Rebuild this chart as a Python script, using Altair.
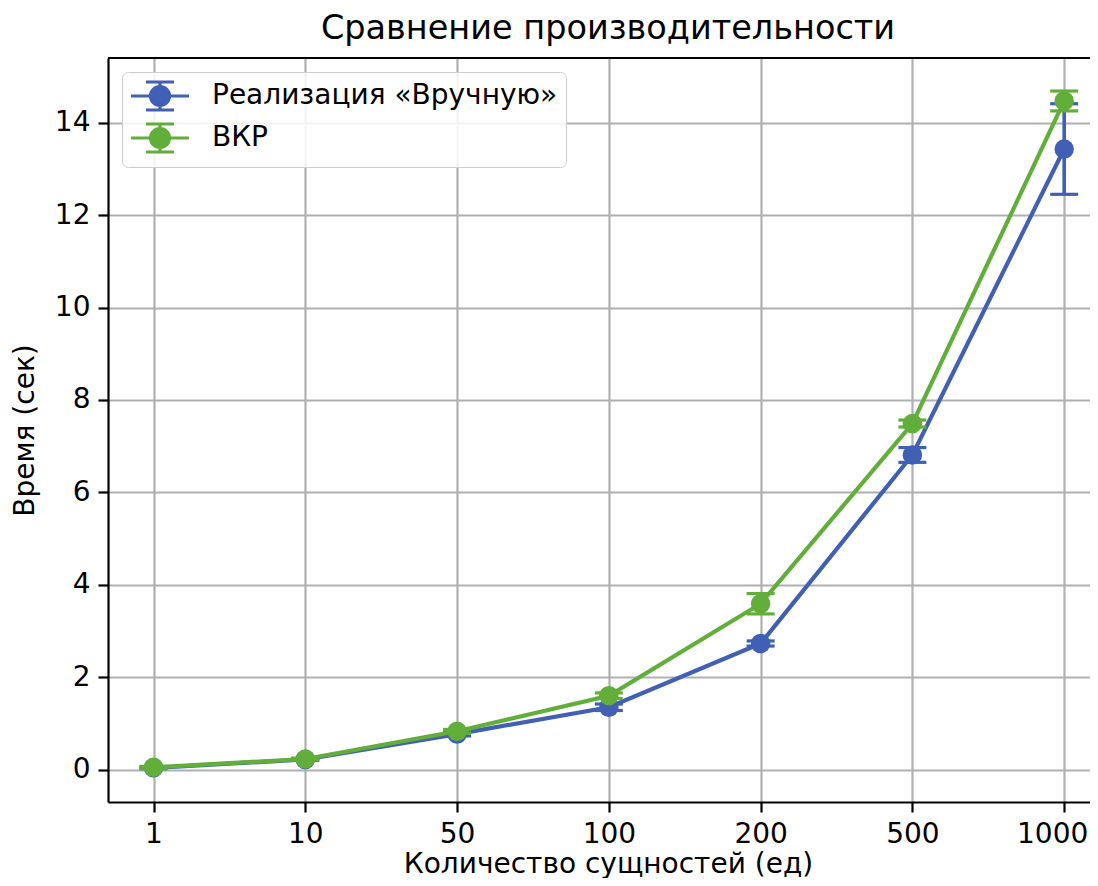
import altair as alt
import pandas as pd

categories = ["1", "10", "50", "100", "200", "500", "1000"]
series_names = ["Реализация «Вручную»", "ВКР"]
manual = [0.04, 0.22, 0.77, 1.35, 2.73, 6.81, 13.43]
manual_err = [0.02, 0.02, 0.04, 0.07, 0.055, 0.16, 0.98]
vkr = [0.05, 0.23, 0.83, 1.60, 3.59, 7.49, 14.47]
vkr_err = [0.02, 0.02, 0.04, 0.06, 0.22, 0.075, 0.215]
colors = ["#4160b5", "#62ae3a"]
y_ticks = [0, 2, 4, 6, 8, 10, 12, 14]

rows = []
for name, vals, errs in [(series_names[0], manual, manual_err), (series_names[1], vkr, vkr_err)]:
    for c, v, e in zip(categories, vals, errs):
        rows.append({"n": c, "series": name, "value": v, "lo": v - e, "hi": v + e})
df = pd.DataFrame(rows)

FONT = "DejaVu Sans"
W, H = 982, 744

xenc = alt.X("n:O", sort=categories,
             scale=alt.Scale(type="point", padding=0.235, align=0.638),
             axis=alt.Axis(title="Количество сущностей (ед)", labelAngle=0, grid=True,
                           labelOffset={"condition": {"test": "datum.label == '1000'", "value": -12}, "value": 0},
                           titleX=500, titleY=70, titleBaseline="alphabetic", titleAnchor="start", titleAlign="center"))
yscale = alt.Scale(domain=[-0.70, 15.40], nice=False, zero=False)
yaxis = alt.Axis(title="Время (сек)", values=y_ticks, grid=True,
                 titleX=-83, titleY=H / 2, titleAngle=-90, titleBaseline="middle", titleAlign="center")

cscale = alt.Scale(domain=series_names, range=colors)

legend_path = ("M-2.07,0L2.07,0M0,-1L0,1M-1,-1L1,-1M-1,1L1,1"
               "M-0.68,0A0.68,0.68 0 1,0 0.68,0A0.68,0.68 0 1,0 -0.68,0Z")
legend = alt.Legend(title=None, orient="none", legendX=14, legendY=14,
                    symbolType=legend_path, symbolSize=784, symbolStrokeWidth=3.2,
                    symbolOffset=14, labelOffset=36, labelFont=FONT, labelFontSize=28,
                    labelColor="#000000", padding=8, rowPadding=0,
                    strokeColor="#cccccc", fillColor="rgba(255,255,255,0.85)",
                    cornerRadius=6, labelLimit=600)

layers = []
for i, name in enumerate(series_names):
    col = colors[i]
    sub = alt.Chart(df).transform_filter(alt.datum.series == name)
    line = sub.mark_line(strokeWidth=4.2, color=col).encode(
        x=xenc, y=alt.Y("value:Q", scale=yscale, axis=yaxis))
    bars = sub.mark_rule(strokeWidth=3.6, color=col).encode(
        x=xenc, y=alt.Y("lo:Q", scale=yscale, axis=yaxis), y2="hi:Q")
    cap_lo = sub.mark_tick(size=28, thickness=3.2, opacity=1, color=col).encode(
        x=xenc, y=alt.Y("lo:Q", scale=yscale, axis=yaxis))
    cap_hi = sub.mark_tick(size=28, thickness=3.2, opacity=1, color=col).encode(
        x=xenc, y=alt.Y("hi:Q", scale=yscale, axis=yaxis))
    pts = sub.mark_point(shape="circle", size=380, filled=True, opacity=1, strokeWidth=0).encode(
        x=xenc, y=alt.Y("value:Q", scale=yscale, axis=yaxis),
        fill=alt.Fill("series:N", scale=cscale, legend=legend),
        stroke=alt.Stroke("series:N", scale=cscale, legend=legend))
    layers += [line, bars, cap_lo, cap_hi, pts]

top_spine = alt.Chart(df).mark_rule(color="#000000", strokeWidth=2.2).encode(
    y=alt.value(0), x=alt.value(0), x2=alt.value(W))

chart = alt.layer(*layers, top_spine).properties(
    width=W, height=H,
    padding={"left": 100, "top": 50, "right": 0, "bottom": 76},
    autosize=alt.AutoSizeParams(type="none"),
    title=alt.TitleParams("Сравнение производительности", font=FONT, fontSize=33.5,
                          fontWeight="normal", color="#000000", anchor="middle",
                          frame="group", dx=9, offset=10),
).configure_view(stroke=None).configure_axis(
    labelFont=FONT, labelFontSize=28, labelColor="#000000",
    titleFont=FONT, titleFontSize=28, titleFontWeight="normal", titleColor="#000000",
    domainColor="#000000", domainWidth=2.2, tickColor="#000000", tickWidth=2.2,
    tickSize=10, labelPadding=8, gridColor="#b0b0b0", gridWidth=2.2, gridOpacity=1,
).configure_axisY(labelPadding=8)

chart.save("out.html", embed_options={"renderer": "svg", "actions": False})
